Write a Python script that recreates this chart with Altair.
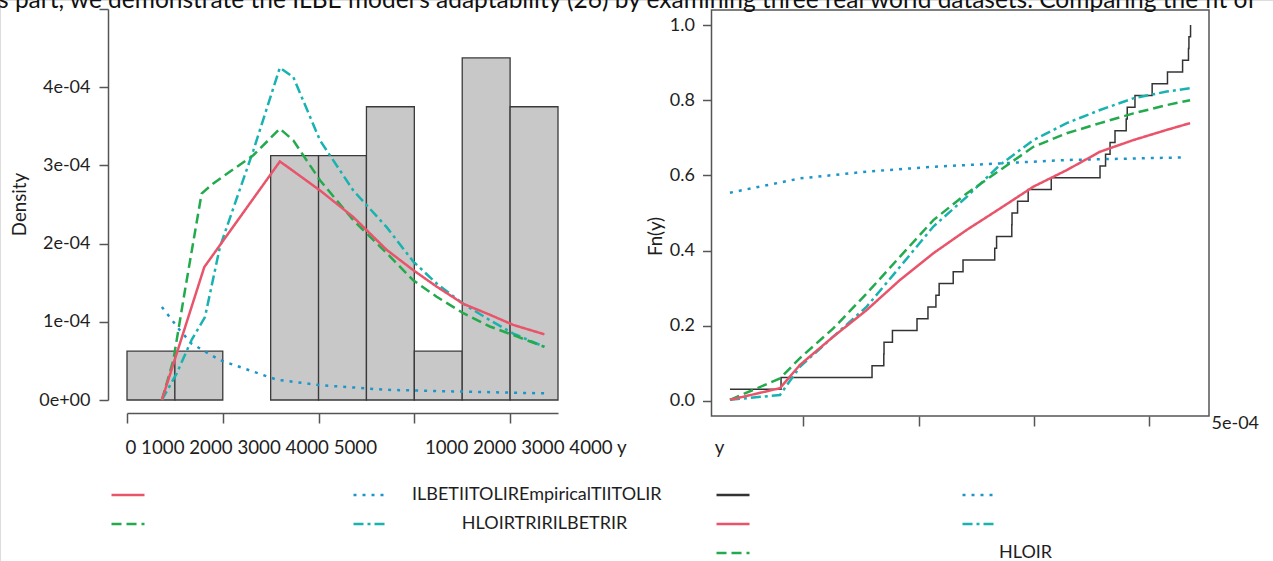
import altair as alt
import pandas as pd

FONT = "Lato"
TXT = "#1e1e1e"
AXC = "#555555"

TOP_TEXT = ("s part, we demonstrate the ILBE model's adaptability (26) by examining "
            "three real world datasets. Comparing the fit of")
NBSP = "\u00a0"
BLANK = "\u2800"
LEFT_X_TEXT = "0 1000 2000 3000 4000 5000" + NBSP * 10 + "1000 2000 3000 4000 y"

# ---------------- data ----------------
Y_OBS = [364, 807, 1596, 1698, 1700, 1773, 1986, 2081, 2150, 2178, 2300, 2385,
         2660, 2676, 2808, 2810, 2858, 2950, 3150, 3573, 3621, 3660, 3703, 3800,
         3809, 3876, 4025, 4158, 4289, 4340, 4344, 4358]
HIST_EXTENT = [0, 4500]
HIST_STEP = 500

# left panel: fitted densities
LEFT_SERIES = ["ILBE", "ILBETIITOLIREmpiricalTIITOLIR", "TIITOLIR", "HLOIRTRIRILBETRIR"]
LEFT_LABELS = ["", "ILBETIITOLIREmpiricalTIITOLIR", "", BLANK + NBSP * 8 + "HLOIRTRIRILBETRIR"]
LEFT_COLORS = ["#E9546B", "#1C95CB", "#22AA4C", "#18B3B0"]
LEFT_DASHES = [[1, 0], [3, 6], [10, 5], [10, 4, 3, 4]]

RED_D_X = [364, 807, 1596, 1700, 2015, 2362, 2711, 2989, 3233, 3511, 3789, 4033, 4358]
RED_D_Y = [0.0, 1.70, 3.05, 2.96, 2.68, 2.34, 1.92, 1.66, 1.45, 1.23, 1.09, 0.96, 0.84]
GRN_D_X = [364, 484, 605, 779, 901, 1319, 1596, 1736, 2015, 2362, 2711, 2989, 3233, 3511, 3789, 4033, 4358]
GRN_D_Y = [0.0, 0.51, 1.40, 2.64, 2.77, 3.13, 3.47, 3.32, 2.81, 2.30, 1.88, 1.53, 1.32, 1.11, 0.94, 0.83, 0.68]
TEA_D_X = [364, 519, 675, 814, 971, 1319, 1596, 1736, 2015, 2362, 2711, 2989, 3233, 3511, 3789, 4033, 4358]
TEA_D_Y = [0.0, 0.34, 0.77, 1.06, 1.96, 3.19, 4.25, 4.13, 3.32, 2.68, 2.21, 1.77, 1.49, 1.23, 1.02, 0.85, 0.68]
BLU_D_X = [364, 553, 675, 971, 1562, 2015, 2711, 3406, 4358]
BLU_D_Y = [1.19, 0.89, 0.72, 0.51, 0.26, 0.19, 0.13, 0.11, 0.085]

# right panel: fitted CDFs
RIGHT_SERIES = ["Empirical", "ILBETIITOLIR", "ILBE", "HLOIRTRIR", "TIITOLIR", "HLOIR"]
RIGHT_LABELS = ["", "", "", "", "", "HLOIR"]
RIGHT_COLORS = ["#333333", "#1C95CB", "#E9546B", "#18B3B0", "#22AA4C", "transparent"]
RIGHT_DASHES = [[1, 0], [3, 6], [1, 0], [10, 4, 3, 4], [10, 5], [1, 0]]

CDF_X = [364, 798, 971, 1260, 1550, 1839, 2128, 2417, 2706, 2995, 3284, 3573, 3862, 4151, 4354]
RED_F = [0.003, 0.034, 0.096, 0.171, 0.242, 0.322, 0.393, 0.455, 0.512, 0.570, 0.614, 0.663, 0.694, 0.721, 0.739]
GRN_F = [0.003, 0.060, 0.114, 0.193, 0.286, 0.384, 0.481, 0.552, 0.614, 0.676, 0.712, 0.739, 0.765, 0.787, 0.800]
TEA_F = [0.003, 0.016, 0.091, 0.171, 0.251, 0.357, 0.464, 0.543, 0.628, 0.694, 0.739, 0.774, 0.805, 0.823, 0.832]
BLU_CDF_X = [364, 971, 1550, 2128, 2706, 3284, 3862, 4325]
BLU_F = [0.554, 0.592, 0.610, 0.623, 0.632, 0.641, 0.645, 0.648]

# ---------------- scales (layout) ----------------
LEFT_X_DOMAIN, LEFT_X_RANGE = [0, 4500], [127, 558]
LEFT_Y_DOMAIN, LEFT_Y_RANGE = [0, 0.0005], [400, 9]
RIGHT_X_DOMAIN, RIGHT_X_RANGE = [204, 4518], [711.5, 1209]
RIGHT_Y_DOMAIN, RIGHT_Y_RANGE = [-0.04, 1.04], [416, 10]

N = len(Y_OBS)
obs = pd.DataFrame({"y": Y_OBS})


def long(xs, ys, name, scale=1.0):
    return pd.DataFrame({"x": xs, "v": [v * scale for v in ys], "s": name})


left_df = pd.concat([
    long(BLU_D_X, BLU_D_Y, LEFT_SERIES[1], 1e-4),
    long(TEA_D_X, TEA_D_Y, LEFT_SERIES[3], 1e-4),
    long(GRN_D_X, GRN_D_Y, LEFT_SERIES[2], 1e-4),
    long(RED_D_X, RED_D_Y, LEFT_SERIES[0], 1e-4),
])
right_df = pd.concat([
    long(BLU_CDF_X, BLU_F, RIGHT_SERIES[1]),
    long(CDF_X, TEA_F, RIGHT_SERIES[3]),
    long(CDF_X, GRN_F, RIGHT_SERIES[4]),
    long(CDF_X, RED_F, RIGHT_SERIES[2]),
])
frame_df = pd.DataFrame({"x0": [RIGHT_X_DOMAIN[0]], "x1": [RIGHT_X_DOMAIN[1]],
                         "y0": [RIGHT_Y_DOMAIN[0]], "y1": [RIGHT_Y_DOMAIN[1]]})


def label_expr(ids, labels):
    expr = "''"
    for i, l in zip(ids, labels):
        if l:
            expr = f"datum.label == '{i}' ? '{l}' : ({expr})"
    return expr


lx = alt.Scale(domain=LEFT_X_DOMAIN, range=LEFT_X_RANGE, nice=False, zero=False)
ly = alt.Scale(domain=LEFT_Y_DOMAIN, range=LEFT_Y_RANGE, nice=False)
rx = alt.Scale(domain=RIGHT_X_DOMAIN, range=RIGHT_X_RANGE, nice=False, zero=False)
ry = alt.Scale(domain=RIGHT_Y_DOMAIN, range=RIGHT_Y_RANGE, nice=False, zero=False)

common_axis = dict(grid=False, domainColor=AXC, domainWidth=1.5, tickColor=AXC, tickWidth=1.5,
                   labelFont=FONT, labelColor=TXT, labelFontSize=18, labelOverlap=False,
                   labelFlush=False, titleFont=FONT, titleColor=TXT, titleFontWeight="normal",
                   titleFontSize=18.7)

lx_axis = alt.Axis(orient="bottom", offset=-148, values=[0, 1000, 2000, 3000, 4000], labels=False,
                   tickSize=10, title=LEFT_X_TEXT, titleX=125, titleY=34, titleAlign="left",
                   titleBaseline="middle", titleAngle=0, **common_axis)
ly_axis = alt.Axis(orient="left", offset=-108,
                   values=[0, 0.0001, 0.0002, 0.0003, 0.0004, 0.0005],
                   labelExpr="datum.value == 0 ? '0e+00' : (datum.value > 0.00045 ? '' : "
                             "replace(format(datum.value, '.0e'), 'e-', 'e-0'))",
                   tickSize=9, labelPadding=9, title="Density", titleX=-89, titleY=204,
                   titleAngle=-90, titleAlign="center", titleBaseline="middle", **common_axis)
rx_axis = alt.Axis(orient="bottom", offset=-145,
                   values=[1000, 2000, 3000, 4000, RIGHT_X_DOMAIN[1]],
                   labelExpr="datum.value > 4500 ? '5e-04' : ''",
                   tickOpacity={"condition": {"test": "datum.value > 4500", "value": 0}, "value": 1},
                   tickSize=10, labelPadding=-3, labelAlign="left", labelBaseline="middle",
                   labelOffset=2, domain=False, title="y", titleX=719, titleY=31,
                   titleAlign="center", titleBaseline="middle", titleAngle=0, **common_axis)
ry_axis = alt.Axis(orient="left", offset=-711.5, values=[0, 0.2, 0.4, 0.6, 0.8, 1.0], format=".1f",
                   tickSize=9, labelPadding=8, domain=False, title="Fn(y)", titleX=-56, titleY=236,
                   titleAngle=-90, titleAlign="center", titleBaseline="middle", **common_axis)

legend_common = dict(orient="none", title=None, columns=2, direction="horizontal", rowPadding=2,
                     symbolType="stroke", symbolSize=1089, symbolStrokeWidth=2.5, labelFont=FONT,
                     labelFontSize=18, labelColor=TXT, labelLimit=600, padding=0)
left_legend = alt.Legend(legendX=110, legendY=477, columnPadding=178, labelOffset=24,
                         labelExpr=label_expr(LEFT_SERIES, LEFT_LABELS), **legend_common)
right_legend = alt.Legend(legendX=715, legendY=477, columnPadding=202, labelOffset=2,
                          labelExpr=label_expr(RIGHT_SERIES, RIGHT_LABELS), **legend_common)

l_stroke = alt.Stroke("s:N", scale=alt.Scale(domain=LEFT_SERIES, range=LEFT_COLORS), legend=left_legend)
l_dash = alt.StrokeDash("s:N", scale=alt.Scale(domain=LEFT_SERIES, range=LEFT_DASHES), legend=left_legend)
r_stroke = alt.Stroke("s:N", scale=alt.Scale(domain=RIGHT_SERIES, range=RIGHT_COLORS), legend=right_legend)
r_dash = alt.StrokeDash("s:N", scale=alt.Scale(domain=RIGHT_SERIES, range=RIGHT_DASHES), legend=right_legend)

hist = (alt.Chart(obs)
        .transform_bin(["b0", "b1"], field="y", bin=alt.Bin(extent=HIST_EXTENT, step=HIST_STEP))
        .transform_aggregate(n="count()", groupby=["b0", "b1"])
        .transform_calculate(density=f"datum.n / ({N} * {HIST_STEP})")
        .mark_bar(fill="#C8C8C8", stroke="#3A3A3A", strokeWidth=1.3)
        .encode(x=alt.X("b0:Q", scale=lx, axis=lx_axis), x2="b1:Q",
                y=alt.Y("density:Q", scale=ly, axis=ly_axis), y2=alt.datum(0)))

left_lines = (alt.Chart(left_df).mark_line(strokeWidth=2.5)
              .encode(x=alt.X("x:Q", scale=lx, axis=lx_axis),
                      y=alt.Y("v:Q", scale=ly, axis=ly_axis),
                      stroke=l_stroke, strokeDash=l_dash))

left = alt.layer(hist, left_lines)

frame = (alt.Chart(frame_df).mark_rect(fillOpacity=0, stroke=AXC, strokeWidth=1.5)
         .encode(x=alt.X("x0:Q", scale=rx, axis=rx_axis), x2="x1:Q",
                 y=alt.Y("y0:Q", scale=ry, axis=ry_axis), y2="y1:Q"))

ecdf = (alt.Chart(obs)
        .transform_window(F="cume_dist()", sort=[alt.SortField("y")])
        .transform_calculate(s=f"'{RIGHT_SERIES[0]}'")
        .mark_line(interpolate="step-after", strokeWidth=1.5)
        .encode(x=alt.X("y:Q", scale=rx, axis=rx_axis),
                y=alt.Y("F:Q", scale=ry, axis=ry_axis),
                stroke=r_stroke, strokeDash=r_dash))

right_lines = (alt.Chart(right_df).mark_line(strokeWidth=2.5)
               .encode(x=alt.X("x:Q", scale=rx, axis=rx_axis),
                       y=alt.Y("v:Q", scale=ry, axis=ry_axis),
                       stroke=r_stroke, strokeDash=r_dash))

right = alt.layer(frame, ecdf, right_lines)

chart = (alt.layer(left, right)
         .resolve_scale(x="independent", y="independent", stroke="independent",
                        strokeDash="independent")
         .properties(width=1273, height=561, padding=0,
                     autosize=alt.AutoSizeParams(type="none"),
                     title=alt.Title(TOP_TEXT, anchor="start", frame="group", orient="top",
                                     offset=-32, baseline="alphabetic", font=FONT, fontSize=24.5,
                                     fontWeight="normal", color="#111111", dx=-2))
         .configure_view(stroke=None)
         .configure(background="white"))

chart.save("out.html", embed_options={"renderer": "svg", "actions": False})
